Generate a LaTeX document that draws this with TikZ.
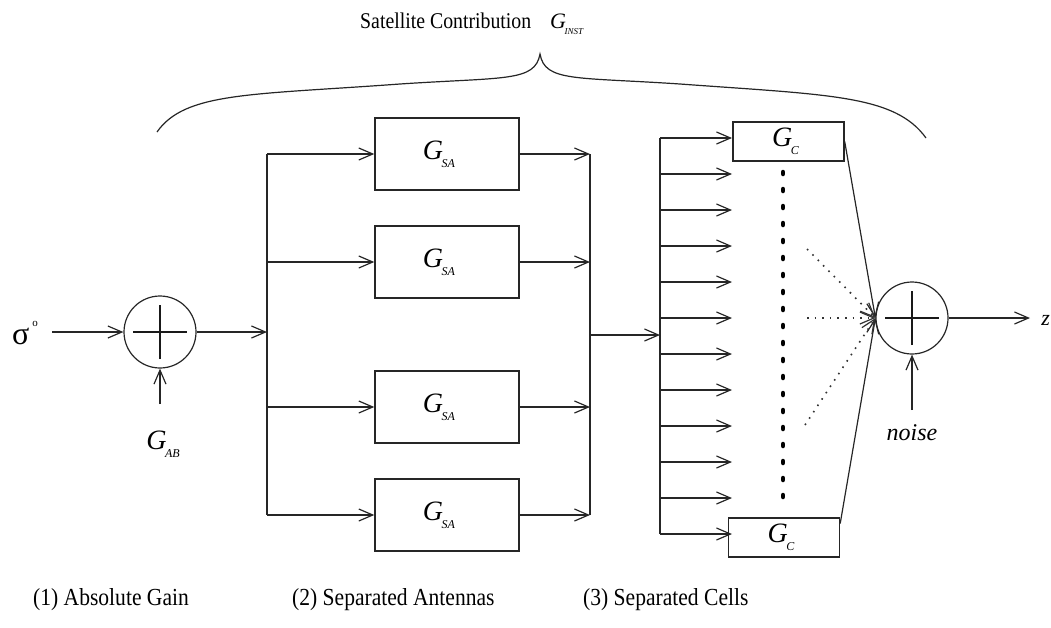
\documentclass[tikz,border=0pt]{standalone}
\usepackage{graphicx}
\usepackage{fontspec}
\setmainfont{Liberation Serif}
\usetikzlibrary{arrows.meta,calc}
\newcommand{\Gsub}[2][12]{\textit{G}\kern-1.5pt\raisebox{-0.3em}{\fontsize{#1}{#1}\selectfont\textit{#2}}}
\newcommand{\cond}[1]{\scalebox{0.88}[1]{#1}}
\tikzset{
  ln/.style={line width=1.2pt, draw=black!85},
  arr/.style={ln, -{Straight Barb[length=14pt,width=12pt,line width=1.2pt]}},
  gbox/.style={draw=black!85, line width=1.4pt, minimum width=144pt, minimum height=72pt, inner sep=0pt, font=\fontsize{28}{28}\selectfont},
  cbox/.style={draw=black!85, line width=1.4pt, minimum width=111pt, minimum height=39pt, inner sep=0pt, font=\fontsize{28}{28}\selectfont},
  sumc/.style={circle, draw=black!85, line width=1.2pt, minimum size=72pt, inner sep=0pt},
  plus/.style={line width=2.4pt, draw=black!90},
  bigdots/.style={line width=4.5pt, line cap=round, dash pattern=on 2pt off 15pt, draw=black},
  smalldots/.style={line width=1.6pt, dash pattern=on 1.6pt off 6pt, draw=black!80},
  lbl/.style={inner sep=0pt, font=\fontsize{24.5}{24.5}\selectfont}
}
\begin{document}
\begin{tikzpicture}[x=1pt,y=-1pt]
\useasboundingbox (0,0) rectangle (1051,627);
% title and brace
\node[inner sep=0pt, anchor=base west, font=\fontsize{22.5}{22.5}\selectfont] (title) at (360,28) {\cond{Satellite Contribution}};
\node[inner sep=0pt, anchor=base west, font=\fontsize{22}{22}\selectfont] (ginst) at (550,28) {\Gsub[9]{INST}};
\draw[ln] (157,132) .. controls (185,92) and (250,95) .. (400,84) .. controls (505,77) and (535,82) .. (540,54)
          .. controls (545,82) and (575,77) .. (680,84) .. controls (830,95) and (895,95) .. (926,138);
% input
\node[inner sep=0pt, anchor=base west, font=\fontsize{32}{32}\selectfont] (sig) at (12,344) {σ\kern3pt\raisebox{0.55em}{\fontsize{11}{11}\selectfont o}};
\coordinate (in0) at (52,332);
\node[sumc] (s1) at (160,332) {};
\draw[plus] ([xshift=-27pt]s1.center) -- ([xshift=27pt]s1.center);
\draw[plus] ([yshift=-27pt]s1.center) -- ([yshift=27pt]s1.center);
\draw[arr] (in0) -- (s1.west);
\coordinate (gab0) at (160,404);
\draw[arr] (gab0) -- (s1.south);
\node[inner sep=0pt, font=\fontsize{28}{28}\selectfont] (gab) at (163,444) {\Gsub{AB}};
% antenna stage
\node[gbox] (a1) at (447,154) {\hspace*{-16pt}\Gsub{SA}};
\node[gbox] (a2) at (447,262) {\hspace*{-16pt}\Gsub{SA}};
\node[gbox] (a3) at (447,407) {\hspace*{-16pt}\Gsub{SA}};
\node[gbox] (a4) at (447,515) {\hspace*{-16pt}\Gsub{SA}};
\coordinate (b1t) at (267,154);
\coordinate (b1b) at (267,515);
\coordinate (b1j) at (267,332);
\draw[ln] (b1t) -- (b1b);
\draw[arr] (s1.east) -- (b1j);
\foreach \n in {a1,a2,a3,a4} {
  \draw[arr] (\n.west -| b1t) -- (\n.west);
}
\coordinate (b2t) at (590,154);
\coordinate (b2b) at (590,515);
\draw[ln] (b2t) -- (b2b);
\foreach \n in {a1,a2,a3,a4} {
  \draw[arr] (\n.east) -- (\n.east -| b2t);
}
\coordinate (b2j) at (590,335);
\coordinate (b3j) at (660,335);
\draw[arr] (b2j) -- (b3j);
% cells stage
\coordinate (b3t) at (660,138);
\coordinate (b3b) at (660,534);
\draw[ln] (b3t) -- (b3b);
\node[cbox] (c1) at (788.5,141.5) {\hspace*{-6pt}\Gsub{C}};
\node[cbox] (c2) at (784,537.5) {\hspace*{-6pt}\Gsub{C}};
\foreach \k in {0,...,11} {
  \coordinate (r\k) at (660,138+36*\k);
  \coordinate (e\k) at (732,138+36*\k);
  \draw[arr] (r\k) -- (e\k);
}
\coordinate (dt) at (783,172);
\coordinate (db) at (783,508);
\draw[bigdots] (dt) -- (db);
% summation of cells
\node[sumc] (s2) at (912,318) {};
\draw[plus] ([xshift=-27pt]s2.center) -- ([xshift=27pt]s2.center);
\draw[plus] ([yshift=-27pt]s2.center) -- ([yshift=27pt]s2.center);
\draw[arr] (c1.east) -- (s2.west);
\draw[arr] ([yshift=14pt]c2.east) -- (s2.west);
\coordinate (d1) at (807,249);
\coordinate (d2) at (807,318);
\coordinate (d3) at (805,425);
\foreach \d in {d1,d2,d3} {
  \draw[smalldots, -{Straight Barb[length=14pt,width=12pt,line width=1.2pt]}] (\d) -- (s2.west);
}
\coordinate (nz0) at (912,410);
\draw[arr] (nz0) -- (s2.south);
\node[inner sep=0pt, font=\fontsize{24}{24}\itshape\selectfont] (noise) at (912,433) {noise};
\coordinate (out) at (1030,318);
\draw[arr] (s2.east) -- (out);
\node[inner sep=0pt, anchor=east, font=\fontsize{22}{22}\itshape\selectfont] (zout) at (1050,320) {z};
% bottom labels
\node[lbl, anchor=base west] (l1) at (33,605) {\cond{(1) Absolute Gain}};
\node[lbl, anchor=base west] (l2) at (292,605) {\cond{(2) Separated Antennas}};
\node[lbl, anchor=base west] (l3) at (583,605) {\cond{(3) Separated Cells}};
\end{tikzpicture}
\end{document}
